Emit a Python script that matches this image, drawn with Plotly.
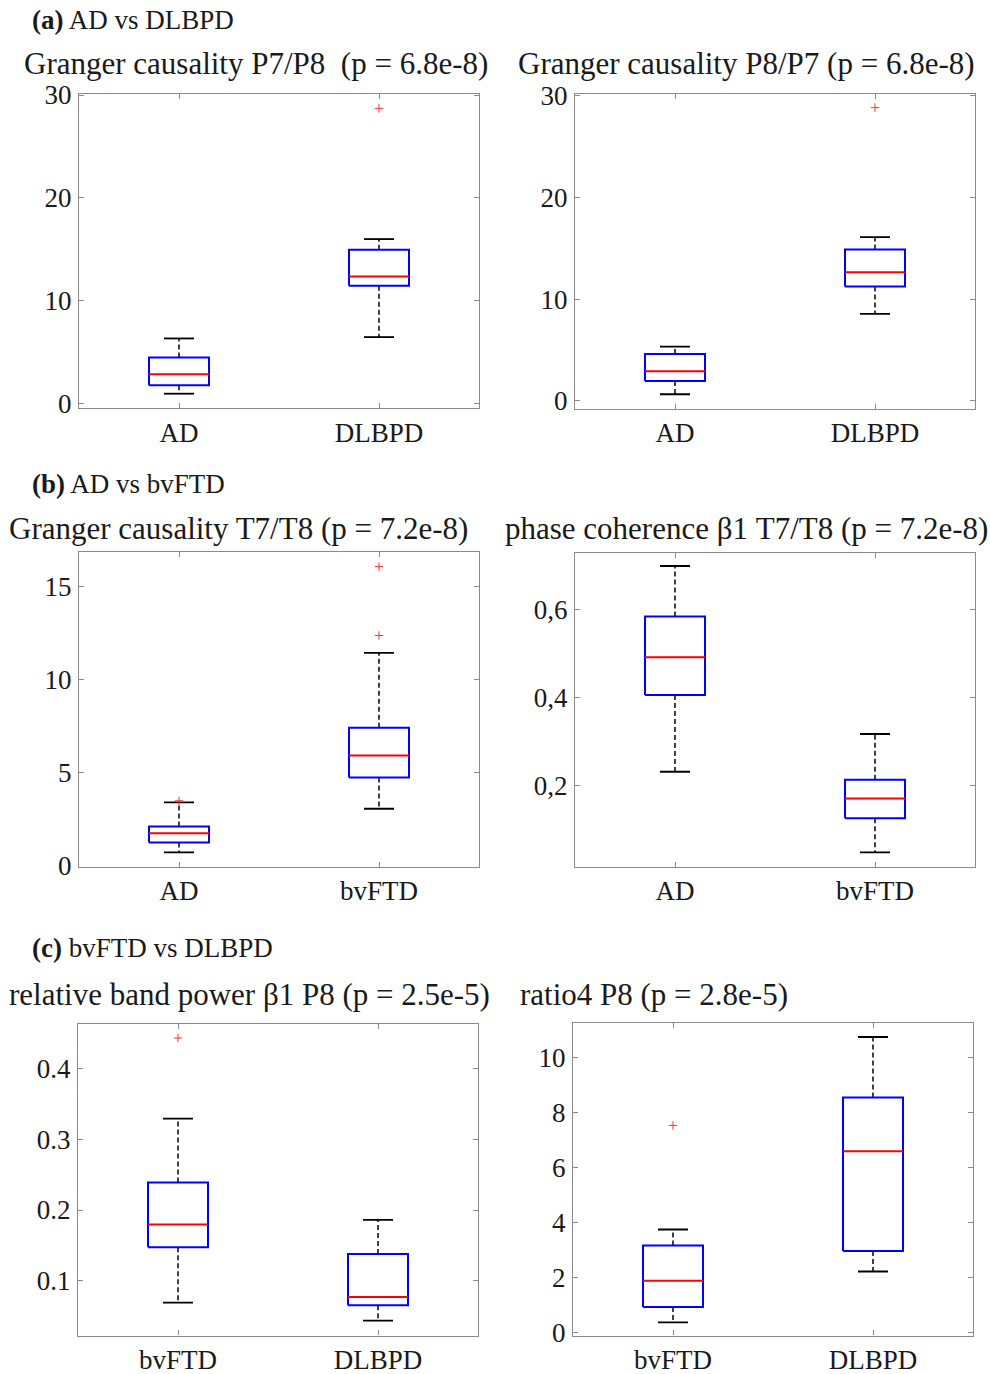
import plotly.graph_objects as go

# ---------------- data ----------------
p1_cats = ["AD", "DLBPD"]
p1_lower = [0.97, 6.47]
p1_q1 = [1.78, 11.46]
p1_median = [2.85, 12.36]
p1_q3 = [4.50, 14.95]
p1_upper = [6.34, 16.0]
p1_outliers = [[], [28.7]]

p2_cats = ["AD", "DLBPD"]
p2_lower = [0.66, 8.55]
p2_q1 = [1.96, 11.23]
p2_median = [2.92, 12.64]
p2_q3 = [4.62, 14.86]
p2_upper = [5.34, 16.08]
p2_outliers = [[], [28.8]]

p3_cats = ["AD", "bvFTD"]
p3_lower = [0.72, 3.06]
p3_q1 = [1.25, 4.74]
p3_median = [1.75, 5.92]
p3_q3 = [2.11, 7.41]
p3_upper = [3.40, 11.43]
p3_outliers = [[3.49], [12.36, 16.06]]

p4_cats = ["AD", "bvFTD"]
p4_lower = [0.231, 0.047]
p4_q1 = [0.406, 0.125]
p4_median = [0.492, 0.170]
p4_q3 = [0.585, 0.213]
p4_upper = [0.700, 0.317]
p4_outliers = [[], []]

p5_cats = ["bvFTD", "DLBPD"]
p5_lower = [0.0693, 0.0437]
p5_q1 = [0.1474, 0.0656]
p5_median = [0.1796, 0.0772]
p5_q3 = [0.239, 0.138]
p5_upper = [0.329, 0.186]
p5_outliers = [[0.443], []]

p6_cats = ["bvFTD", "DLBPD"]
p6_lower = [0.36, 2.21]
p6_q1 = [0.92, 2.96]
p6_median = [1.87, 6.59]
p6_q3 = [3.16, 8.55]
p6_upper = [3.74, 10.75]
p6_outliers = [[7.53], []]

titles = [
    "Granger causality P7/P8  (p = 6.8e-8)",
    "Granger causality P8/P7 (p = 6.8e-8)",
    "Granger causality T7/T8 (p = 7.2e-8)",
    "phase coherence \u03b21 T7/T8 (p = 7.2e-8)",
    "relative band power \u03b21 P8 (p = 2.5e-5)",
    "ratio4 P8 (p = 2.8e-5)",
]
section_labels = [("(a)", " AD vs DLBPD"), ("(b)", " AD vs bvFTD"), ("(c)", " bvFTD vs DLBPD")]

y_ticks = [
    ([0, 10, 20, 30], ["0", "10", "20", "30"]),
    ([0, 10, 20, 30], ["0", "10", "20", "30"]),
    ([0, 5, 10, 15], ["0", "5", "10", "15"]),
    ([0.2, 0.4, 0.6], ["0,2", "0,4", "0,6"]),
    ([0.1, 0.2, 0.3, 0.4], ["0.1", "0.2", "0.3", "0.4"]),
    ([0, 2, 4, 6, 8, 10], ["0", "2", "4", "6", "8", "10"]),
]
y_ranges = [
    [-0.42, 30.1],
    [-0.76, 30.14],
    [-0.05, 16.86],
    [0.0145, 0.729],
    [0.0228, 0.4623],
    [-0.12, 11.26],
]

panels = [
    (p1_cats, p1_lower, p1_q1, p1_median, p1_q3, p1_upper, p1_outliers),
    (p2_cats, p2_lower, p2_q1, p2_median, p2_q3, p2_upper, p2_outliers),
    (p3_cats, p3_lower, p3_q1, p3_median, p3_q3, p3_upper, p3_outliers),
    (p4_cats, p4_lower, p4_q1, p4_median, p4_q3, p4_upper, p4_outliers),
    (p5_cats, p5_lower, p5_q1, p5_median, p5_q3, p5_upper, p5_outliers),
    (p6_cats, p6_lower, p6_q1, p6_median, p6_q3, p6_upper, p6_outliers),
]

# ---------------- layout geometry (pixels) ----------------
W, H = 990, 1374
axes_px = [
    (79, 479, 94, 408),
    (575, 975, 94, 408.7),
    (79, 479, 551.7, 866.7),
    (575, 975, 553.3, 866.7),
    (78, 478, 1024.3, 1335.5),
    (573, 973, 1023, 1335.5),
]
title_px = [(22, 64), (516, 64), (7, 528), (503, 528), (7, 994), (518, 994)]
section_px = [(30, 20), (30, 484), (30, 948)]

FONT = "Liberation Serif, Times New Roman, serif"
BOX_HW = 0.15
CAP_HW = 0.075
FRAME = "#8a8a8a"

fig = go.Figure()
layout = dict(
    width=W, height=H, margin=dict(l=0, r=0, t=0, b=0, autoexpand=False),
    paper_bgcolor="white", plot_bgcolor="white", showlegend=False,
    font=dict(family=FONT, color="#1a1a1a"),
)
annotations = []

for i, (cats, lo, q1, med, q3, up, outl) in enumerate(panels):
    n = i + 1
    xa = "x" if n == 1 else f"x{n}"
    ya = "y" if n == 1 else f"y{n}"
    for j in range(len(cats)):
        c = j + 1
        # whiskers (dashed black)
        fig.add_trace(go.Scatter(
            x=[c, c, None, c, c], y=[q3[j], up[j], None, q1[j], lo[j]],
            mode="lines", line=dict(color="black", width=1.5, dash="5px,3px"),
            xaxis=xa, yaxis=ya, hoverinfo="skip"))
        # caps
        fig.add_trace(go.Scatter(
            x=[c - CAP_HW, c + CAP_HW, None, c - CAP_HW, c + CAP_HW],
            y=[up[j], up[j], None, lo[j], lo[j]],
            mode="lines", line=dict(color="black", width=1.8),
            xaxis=xa, yaxis=ya, hoverinfo="skip"))
        # box
        fig.add_trace(go.Scatter(
            x=[c - BOX_HW, c + BOX_HW, c + BOX_HW, c - BOX_HW, c - BOX_HW],
            y=[q1[j], q1[j], q3[j], q3[j], q1[j]],
            mode="lines", line=dict(color="#0000ff", width=2),
            xaxis=xa, yaxis=ya, hoverinfo="skip"))
        # median
        fig.add_trace(go.Scatter(
            x=[c - BOX_HW, c + BOX_HW], y=[med[j], med[j]],
            mode="lines", line=dict(color="#ff0000", width=2),
            xaxis=xa, yaxis=ya, hoverinfo="skip"))
        # outliers
        if outl[j]:
            fig.add_trace(go.Scatter(
                x=[c] * len(outl[j]), y=outl[j], mode="markers",
                marker=dict(symbol="cross-thin", size=6, color="#ff3030",
                            line=dict(color="#ff3030", width=1)),
                xaxis=xa, yaxis=ya, hoverinfo="skip"))

    x0, x1, y0, y1 = axes_px[i]
    common = dict(showline=True, linecolor=FRAME, linewidth=1.2, mirror="ticks",
                  ticks="inside", ticklen=5, tickcolor=FRAME, tickwidth=1,
                  showgrid=False, zeroline=False, automargin=False,
                  tickfont=dict(family=FONT, size=27, color="#1a1a1a"))
    layout["xaxis" if n == 1 else f"xaxis{n}"] = dict(
        domain=[x0 / W, x1 / W], anchor=ya, range=[0.5, 2.5],
        tickvals=[1, 2], ticktext=cats, ticklabelstandoff=0, **common)
    tv, tt = y_ticks[i]
    layout["yaxis" if n == 1 else f"yaxis{n}"] = dict(
        domain=[1 - y1 / H, 1 - y0 / H], anchor=xa, range=y_ranges[i],
        tickvals=tv, ticktext=tt, ticklabelstandoff=1, **common)

    tx, ty = title_px[i]
    annotations.append(dict(
        text=titles[i], x=tx / W, y=1 - ty / H, xref="paper", yref="paper",
        xanchor="left", yanchor="middle", showarrow=False,
        font=dict(family=FONT, size=31, color="#1a1a1a")))

for (lab, rest), (sx, sy) in zip(section_labels, section_px):
    annotations.append(dict(
        text=f"<b>{lab}</b>{rest}", x=sx / W, y=1 - sy / H, xref="paper", yref="paper",
        xanchor="left", yanchor="middle", showarrow=False,
        font=dict(family=FONT, size=27, color="#1a1a1a")))

layout["annotations"] = annotations
fig.update_layout(**layout)
fig.write_html("out.html", config={"displayModeBar": False},
               post_script="document.body.style.margin='0px';document.body.style.overflow='hidden';")
